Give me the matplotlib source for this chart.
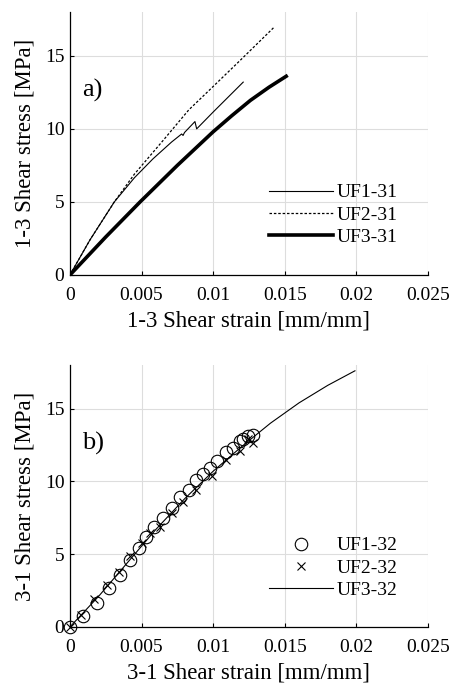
import numpy as np
import matplotlib
matplotlib.use("Agg")
import matplotlib.pyplot as plt

plt.rcParams['font.family'] = ['Liberation Serif', 'DejaVu Serif']

# panel a) 1-3 shear
uf1_31_x = [0, 0.0014, 0.0031, 0.0045, 0.0058, 0.0071, 0.0078, 0.0079, 0.0080,
            0.00873, 0.00885, 0.010, 0.0121]
uf1_31_y = [0, 2.4, 5.0, 6.65, 7.95, 9.1, 9.65, 9.55, 9.75,
            10.5, 10.0, 11.15, 13.2]
uf2_31_x = [0, 0.0014, 0.0031, 0.0045, 0.0065, 0.0083, 0.010, 0.0119, 0.0143]
uf2_31_y = [0, 2.4, 5.0, 6.9, 9.2, 11.3, 12.9, 14.7, 17.0]
uf3_31_x = [0, 0.0025, 0.0049, 0.0075, 0.010, 0.0113, 0.0126, 0.0139, 0.0151]
uf3_31_y = [0, 2.6, 5.0, 7.5, 9.8, 10.9, 11.95, 12.85, 13.6]

# panel b) 3-1 shear
uf1_32_x = [0, 0.00093, 0.00186, 0.0027, 0.0035, 0.0042, 0.0048, 0.0053, 0.0059, 0.0065,
            0.0071, 0.0077, 0.0083, 0.0088, 0.0093, 0.0098, 0.0103, 0.0109, 0.0114,
            0.0119, 0.0121, 0.0124, 0.0128]
uf1_32_y = [0, 0.73, 1.65, 2.7, 3.6, 4.6, 5.4, 6.2, 6.9, 7.5,
            8.2, 8.9, 9.4, 10.1, 10.5, 10.9, 11.4, 12.0, 12.3,
            12.75, 12.9, 13.1, 13.2]
uf2_32_x = [0, 0.0008, 0.0017, 0.0026, 0.0034, 0.0042, 0.0050, 0.0056, 0.0063, 0.0071,
            0.0079, 0.0088, 0.0099, 0.0109, 0.0119, 0.0124, 0.0128]
uf2_32_y = [0, 0.85, 1.9, 2.9, 3.8, 4.85, 5.8, 6.45, 6.9, 7.8,
            8.6, 9.4, 10.35, 11.5, 12.1, 12.9, 12.65]
uf3_32_x = [0, 0.002, 0.004, 0.006, 0.008, 0.010, 0.012, 0.014, 0.016, 0.018, 0.0199]
uf3_32_y = [0, 2.1, 4.4, 6.7, 8.8, 10.7, 12.4, 14.0, 15.4, 16.6, 17.6]

xticks = [0, 0.005, 0.01, 0.015, 0.02, 0.025]
xticklabels = ['0', '0.005', '0.01', '0.015', '0.02', '0.025']
yticks = [0, 5, 10, 15]

fig = plt.figure(figsize=(4.51, 6.88), dpi=100)
ax1 = fig.add_axes([0.155, 0.6003, 0.794, 0.3823])
ax2 = fig.add_axes([0.155, 0.0887, 0.794, 0.3808])


def style(ax, xlabel, ylabel, tag):
    ax.set_xlim(0, 0.025)
    ax.set_ylim(0, 18)
    ax.set_xticks(xticks)
    ax.set_xticklabels(xticklabels)
    ax.set_yticks(yticks)
    ax.tick_params(direction='in', labelsize=14, length=3, width=0.8, pad=4)
    ax.tick_params(axis='x', pad=9)
    ax.grid(True, color='#dddddd', linewidth=0.8)
    ax.set_axisbelow(True)
    for s in ['top', 'right']:
        ax.spines[s].set_visible(False)
    for s in ['left', 'bottom']:
        ax.spines[s].set_linewidth(0.9)
    ax.set_xlabel(xlabel, fontsize=16.5, labelpad=4)
    ax.set_ylabel(ylabel, fontsize=16.5, labelpad=7)
    ax.text(0.035, 0.70, tag, transform=ax.transAxes, fontsize=19, va='center')


leg_kw = dict(loc='center right', frameon=False, fontsize=14, handlelength=3.3,
              handletextpad=0.2, labelspacing=0.25, borderpad=0, borderaxespad=0)

ax1.plot(uf1_31_x, uf1_31_y, color='black', lw=0.8, label='UF1-31')
ax1.plot(uf2_31_x, uf2_31_y, color='black', lw=0.9, ls=(0, (2, 1.5)), label='UF2-31')
ax1.plot(uf3_31_x, uf3_31_y, color='black', lw=2.6, label='UF3-31')
style(ax1, '1-3 Shear strain [mm/mm]', '1-3 Shear stress [MPa]', 'a)')
ax1.legend(bbox_to_anchor=(0.916, 0.228), **leg_kw)

ax2.plot(uf1_32_x, uf1_32_y, ls='none', marker='o', ms=9, mfc='none', mec='black',
         mew=0.8, label='UF1-32', clip_on=False)
ax2.plot(uf2_32_x, uf2_32_y, ls='none', marker='x', ms=6, color='black', mew=0.8,
         label='UF2-32', clip_on=False)
ax2.plot(uf3_32_x, uf3_32_y, color='black', lw=0.8, label='UF3-32')
style(ax2, '3-1 Shear strain [mm/mm]', '3-1 Shear stress [MPa]', 'b)')
ax2.legend(bbox_to_anchor=(0.916, 0.225), numpoints=1, **leg_kw)

fig.savefig('out.png', dpi=100)
